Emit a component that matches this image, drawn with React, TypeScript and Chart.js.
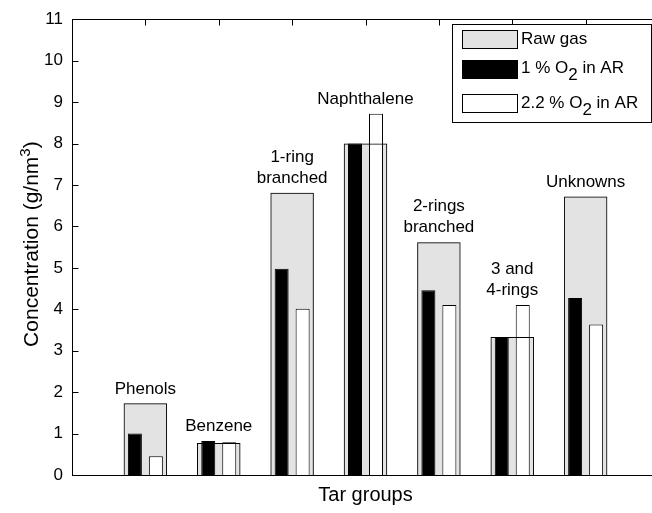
import { useEffect, useRef } from 'react';
import { Chart, registerables } from 'chart.js';

Chart.register(...registerables);

// Tar groups and measured concentrations (g/nm3)
const categories = [
  'Phenols',
  'Benzene',
  '1-ring branched',
  'Naphthalene',
  '2-rings branched',
  '3 and 4-rings',
  'Unknowns',
];
const groupLabels = [
  ['Phenols'],
  ['Benzene'],
  ['1-ring', 'branched'],
  ['Naphthalene'],
  ['2-rings', 'branched'],
  ['3 and', '4-rings'],
  ['Unknowns'],
];
const rawGas = [1.73, 0.77, 6.81, 8.0, 5.62, 3.33, 6.72];
const o2OnePercent = [1.0, 0.82, 4.98, 8.0, 4.46, 3.33, 4.27];
const o2TwoPointTwo = [0.45, 0.79, 4.01, 8.72, 4.1, 4.1, 3.63];
const yTickValues = [0, 1, 2, 3, 4, 5, 6, 7, 8, 9, 10, 11];

// Legend entries: plain text pieces and subscript pieces
type Piece = { text: string; sub?: boolean };
const legendEntries: { fill: string; parts: Piece[] }[] = [
  { fill: '#e3e3e3', parts: [{ text: 'Raw gas' }] },
  { fill: '#000000', parts: [{ text: '1 % O' }, { text: '2', sub: true }, { text: ' in AR' }] },
  { fill: '#ffffff', parts: [{ text: '2.2 % O' }, { text: '2', sub: true }, { text: ' in AR' }] },
];

const FONT = '"Liberation Sans", Arial, Helvetica, sans-serif';
const CANVAS_W = 680;
const CANVAS_H = 513;
const TICK = 6;

const toPoints = (vals: number[]) => vals.map((v, i) => ({ x: i + 1, y: v }));

const axesPlugin = {
  id: 'matlabAxes',
  beforeDatasetsDraw(chart: any) {
    const { ctx, chartArea: a, scales } = chart;
    const x = scales.x;
    const y = scales.y;
    const L = Math.round(a.left) + 0.5;
    const R = Math.round(a.right) + 0.5;
    const T = Math.round(a.top) + 0.5;
    const B = Math.round(a.bottom) + 0.5;
    ctx.save();
    ctx.strokeStyle = '#000';
    ctx.lineWidth = 1;
    ctx.beginPath();
    for (const v of yTickValues) {
      const py = Math.round(y.getPixelForValue(v)) + 0.5;
      ctx.moveTo(L, py);
      ctx.lineTo(L + TICK, py);
      ctx.moveTo(R, py);
      ctx.lineTo(R - TICK, py);
    }
    categories.forEach((_, i) => {
      const px = Math.round(x.getPixelForValue(i + 1)) + 0.5;
      ctx.moveTo(px, T);
      ctx.lineTo(px, T + TICK);
      ctx.moveTo(px, B);
      ctx.lineTo(px, B - TICK);
    });
    ctx.stroke();
    ctx.restore();
  },
  afterDatasetsDraw(chart: any) {
    const { ctx, chartArea: a, scales } = chart;
    const x = scales.x;
    const y = scales.y;
    ctx.save();

    // axes box
    ctx.strokeStyle = '#000';
    ctx.lineWidth = 1;
    const L = Math.round(a.left) + 0.5;
    const R = Math.round(a.right) + 0.5;
    const T = Math.round(a.top) + 0.5;
    const B = Math.round(a.bottom) + 0.5;
    ctx.strokeRect(L, T, R - L, B - T);

    // group labels above each group of bars
    ctx.fillStyle = '#000';
    ctx.font = `17px ${FONT}`;
    ctx.textAlign = 'center';
    ctx.textBaseline = 'middle';
    groupLabels.forEach((lines, i) => {
      const top = Math.max(rawGas[i], o2OnePercent[i], o2TwoPointTwo[i]);
      const cx = x.getPixelForValue(i + 1);
      const lastY = y.getPixelForValue(top) - 14.5;
      lines.forEach((line, j) => {
        ctx.fillText(line, cx, lastY - (lines.length - 1 - j) * 21.5);
      });
    });

    // y axis title with superscript
    ctx.save();
    ctx.translate(31, (a.top + a.bottom) / 2 - 3);
    ctx.rotate(-Math.PI / 2);
    const mainFont = `21px ${FONT}`;
    const supFont = `15px ${FONT}`;
    const p1 = 'Concentration (g/nm';
    const p2 = '3';
    const p3 = ')';
    ctx.font = mainFont;
    const w1 = ctx.measureText(p1).width;
    const w3 = ctx.measureText(p3).width;
    ctx.font = supFont;
    const w2 = ctx.measureText(p2).width;
    let sx = -(w1 + w2 + w3) / 2;
    ctx.textAlign = 'left';
    ctx.textBaseline = 'alphabetic';
    ctx.font = mainFont;
    ctx.fillText(p1, sx, 7);
    sx += w1;
    ctx.font = supFont;
    ctx.fillText(p2, sx, -1);
    sx += w2;
    ctx.font = mainFont;
    ctx.fillText(p3, sx, 7);
    ctx.restore();

    // legend box
    const bx = 452.5;
    const by = 24.5;
    const bw = 199;
    const bh = 98;
    ctx.fillStyle = '#fff';
    ctx.fillRect(bx, by, bw, bh);
    ctx.strokeStyle = '#000';
    ctx.strokeRect(bx, by, bw, bh);
    const rowCenters = [39, 68.5, 103];
    legendEntries.forEach((entry, i) => {
      const cy = rowCenters[i];
      ctx.fillStyle = entry.fill;
      ctx.fillRect(462.5, Math.round(cy - 9) + 0.5, 55, 18);
      ctx.strokeStyle = '#000';
      ctx.strokeRect(462.5, Math.round(cy - 9) + 0.5, 55, 18);
      ctx.fillStyle = '#000';
      ctx.font = `17px ${FONT}`;
      ctx.textAlign = 'left';
      ctx.textBaseline = 'middle';
      let tx = 521;
      for (const part of entry.parts) {
        const dy = part.sub ? 7 : 0;
        ctx.fillText(part.text, tx, cy + dy);
        tx += ctx.measureText(part.text).width;
      }
    });

    ctx.restore();
  },
};

export default function App() {
  const canvasRef = useRef<HTMLCanvasElement | null>(null);

  useEffect(() => {
    const canvas = canvasRef.current;
    if (!canvas) return;
    const chart = new Chart(canvas, {
      type: 'bar',
      data: {
        datasets: [
          {
            label: 'Raw gas',
            data: toPoints(rawGas),
            backgroundColor: '#e3e3e3',
            borderWidth: 0,
            grouped: false,
            categoryPercentage: 1,
            barPercentage: 0.592,
            order: 4,
          },
          {
            label: '1 % O2 in AR',
            data: toPoints(o2OnePercent),
            backgroundColor: '#000000',
            borderColor: '#000000',
            borderWidth: 1,
            categoryPercentage: 0.572,
            barPercentage: 0.667,
            order: 2,
          },
          {
            label: '2.2 % O2 in AR',
            data: toPoints(o2TwoPointTwo),
            backgroundColor: '#ffffff',
            borderColor: '#000000',
            borderWidth: 1,
            categoryPercentage: 0.572,
            barPercentage: 0.667,
            order: 3,
          },
          {
            label: 'Raw gas edge',
            data: toPoints(rawGas),
            backgroundColor: 'rgba(0,0,0,0)',
            borderColor: '#000000',
            borderWidth: 1,
            grouped: false,
            categoryPercentage: 1,
            barPercentage: 0.592,
            order: 1,
          },
        ] as any,
      },
      options: {
        animation: false,
        responsive: false,
        devicePixelRatio: 1,
        layout: { padding: { top: 13, right: CANVAS_W - 659, left: 0, bottom: 0 } },
        plugins: {
          legend: { display: false },
          tooltip: { enabled: false },
        },
        scales: {
          x: {
            type: 'linear',
            min: 0,
            max: 8,
            offset: false,
            grid: { display: false, drawTicks: false },
            border: { display: false },
            ticks: { display: false },
            title: {
              display: true,
              text: 'Tar groups',
              color: '#000',
              font: { family: FONT, size: 20 },
              padding: { top: 0, bottom: 6 },
            },
            afterFit: (s: any) => {
              s.height = 38;
            },
          },
          y: {
            min: 0,
            max: 11,
            grid: { display: false, drawTicks: false },
            border: { display: false },
            ticks: {
              color: '#000',
              font: { family: FONT, size: 17 },
              padding: 9,
            },
            afterBuildTicks: (s: any) => {
              s.ticks = yTickValues.map((v) => ({ value: v }));
            },
            afterFit: (s: any) => {
              s.width = 72;
            },
          },
        } as any,
      },
      plugins: [axesPlugin],
    });
    return () => chart.destroy();
  }, []);

  return (
    <div
      style={{
        position: 'fixed',
        left: 0,
        top: 0,
        width: 652,
        height: 513,
        overflow: 'hidden',
        background: '#fff',
      }}
    >
      <canvas
        ref={canvasRef}
        width={CANVAS_W}
        height={CANVAS_H}
        style={{ display: 'block', width: CANVAS_W, height: CANVAS_H }}
      />
    </div>
  );
}
